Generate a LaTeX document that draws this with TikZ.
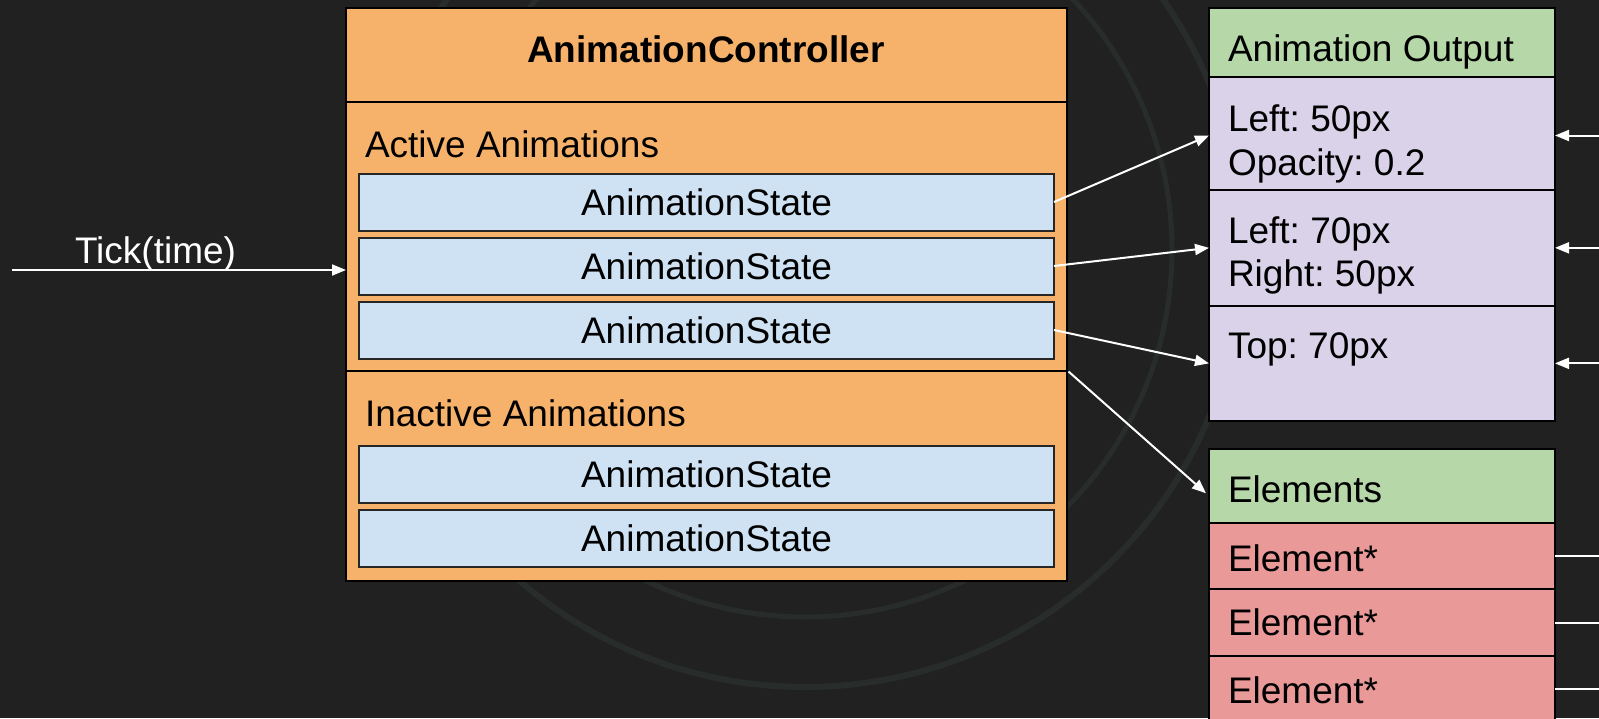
\documentclass[tikz,border=0pt]{standalone}
\usepackage{fontspec}
\setmainfont{Liberation Sans}
\usetikzlibrary{arrows.meta,calc}
\definecolor{bg}{HTML}{212121}
\definecolor{ringc}{HTML}{282D2C}
\definecolor{ctrlfill}{HTML}{F6B26B}
\definecolor{statefill}{HTML}{CFE2F3}
\definecolor{headfill}{HTML}{B6D7A8}
\definecolor{outfill}{HTML}{D9D2E9}
\definecolor{elemfill}{HTML}{EA9999}
\frenchspacing
\begin{document}
\begin{tikzpicture}[x=1pt,y=-1pt,
  cell/.style={rectangle, draw=black, line width=2pt, inner sep=0pt, outer sep=0pt, anchor=north west},
  statebox/.style={cell, fill=statefill, draw=black!85, minimum width=695pt, minimum height=57pt},
  outrow/.style={cell, minimum width=346pt},
  txt/.style={inner sep=0pt, outer sep=0pt, anchor=base west, font=\fontsize{37pt}{43pt}\selectfont, text=black},
  ctxt/.style={inner sep=0pt, outer sep=0pt, anchor=center, font=\fontsize{37pt}{43pt}\selectfont, text=black},
  wire/.style={draw=white, line width=2pt},
  arr/.style={wire, -{Triangle[length=14pt,width=11pt]}},
  ring/.style={draw=ringc, line width=6pt}]

% canvas
\clip (0,0) rectangle (1599,718);
\fill[bg] (0,0) rectangle (1599,718);

% faint emblem rings in the backdrop
\draw[ring] (805,250) circle[radius=437];
\draw[ring, line width=5pt] (805,250) circle[radius=367];

% controller
\node[cell, fill=ctrlfill, minimum width=721pt, minimum height=94pt] (title) at (346,8) {};
\node[cell, fill=ctrlfill, minimum width=721pt, minimum height=269pt] (active) at (346,102) {};
\node[cell, fill=ctrlfill, minimum width=721pt, minimum height=210pt] (inactive) at (346,371) {};
\node[txt, anchor=base] (titletext) at (706,62) {\bfseries AnimationController};
\node[txt] (activetext) at (365,157) {Active Animations};
\node[txt] (inactivetext) at (365,426) {Inactive Animations};

% animation states
\node[statebox] (s1) at (359,173.5) {};
\node[statebox] (s2) at (359,237.5) {};
\node[statebox] (s3) at (359,301.5) {};
\node[statebox] (s4) at (359,445.5) {};
\node[statebox] (s5) at (359,509.5) {};
\foreach \s in {s1,s2,s3,s4,s5}
  \node[ctxt] (\s text) at (\s.center) {AnimationState};

% animation output
\node[outrow, fill=headfill, minimum height=69pt] (ohead) at (1209,8) {};
\node[outrow, fill=outfill, minimum height=113pt] (o1) at (1209,77) {};
\node[outrow, fill=outfill, minimum height=115.7pt] (o2) at (1209,190) {};
\node[outrow, fill=outfill, minimum height=115.3pt] (o3) at (1209,305.7) {};
\node[txt] (oheadtext) at (1228,61.7) {Animation Output};
\node[txt] (o1a) at (1228,131.7) {Left: 50px};
\node[txt] (o1b) at (1228,175) {Opacity: 0.2};
\node[txt] (o2a) at (1228,243.3) {Left: 70px};
\node[txt] (o2b) at (1228,286.7) {Right: 50px};
\node[txt] (o3a) at (1228,358.3) {Top: 70px};

% elements
\node[outrow, fill=headfill, minimum height=73.5pt] (ehead) at (1209,449) {};
\node[outrow, fill=elemfill, minimum height=66.5pt] (e1) at (1209,522.5) {};
\node[outrow, fill=elemfill, minimum height=67pt] (e2) at (1209,589) {};
\node[outrow, fill=elemfill, minimum height=66pt] (e3) at (1209,656) {};
\node[txt] (eheadtext) at (1228,502.8) {Elements};
\node[txt] (e1text) at (1228,571) {Element*};
\node[txt] (e2text) at (1228,635.5) {Element*};
\node[txt] (e3text) at (1228,703.7) {Element*};

% tick input
\coordinate (tickin) at (12,270);
\node[txt, text=white] (ticktext) at (75,263) {Tick(time)};
\draw[arr] (tickin) -- (tickin -| active.west);

% states to outputs
\coordinate (o1left) at ($(o1.west)+(0,2)$);
\draw[arr] (s1.east) -- (o1left);
\draw[arr] (s2.east) -- (o2.west);
\draw[arr] (s3.east) -- (o3.west);
\coordinate (split) at ($(active.south east)+(1.5,0.5)$);
\coordinate (eheadleft) at ($(ehead.west)+(-3,7.5)$);
\draw[arr] (split) -- (eheadleft);

% links leaving the right edge
\coordinate (edge) at (1610,0);
\coordinate (o1right) at ($(o1.east)+(0,2)$);
\draw[arr] (o1right -| edge) -- (o1right);
\draw[arr] (o2.east -| edge) -- (o2.east);
\draw[arr] (o3.east -| edge) -- (o3.east);
\draw[wire] (e1.east) -- (e1.east -| edge);
\draw[wire] (e2.east) -- (e2.east -| edge);
\draw[wire] (e3.east) -- (e3.east -| edge);
\end{tikzpicture}
\end{document}
